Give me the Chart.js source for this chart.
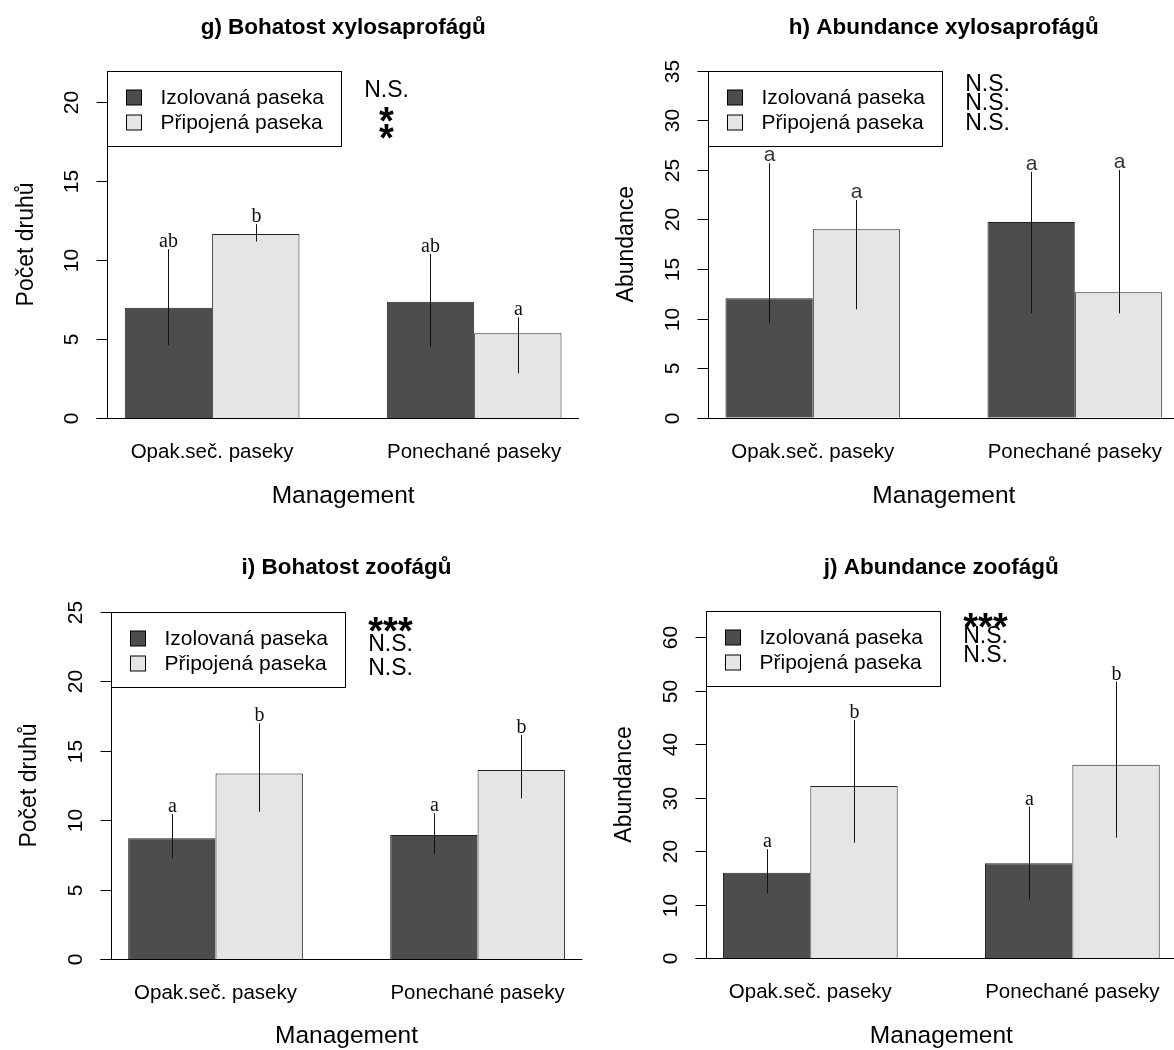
<!DOCTYPE html>
<html>
<head>
<meta charset="utf-8">
<title>Xylosaprofágové a zoofágové</title>
<script src="https://cdn.jsdelivr.net/npm/chart.js@4.4.0/dist/chart.umd.min.js"></script>
<style>
  html, body { margin: 0; padding: 0; background: #fff; overflow: hidden; }
  body { width: 1174px; height: 1050px; position: relative; }
  canvas { position: absolute; }
</style>
</head>
<body>
<canvas id="chartG" width="630" height="530" style="left:0px;top:0px"></canvas>
<canvas id="chartH" width="630" height="530" style="left:590px;top:0px"></canvas>
<canvas id="chartI" width="630" height="530" style="left:0px;top:540px"></canvas>
<canvas id="chartJ" width="630" height="530" style="left:590px;top:540px"></canvas>
<script>
// spolecne
const categories = ['Opak.seč. paseky', 'Ponechané paseky'];
const seriesNames = ['Izolovaná paseka', 'Připojená paseka'];

// g) Bohatost xylosaprofágů
const gIzol = [7.0, 7.38];
const gPrip = [11.65, 5.38];
const gIzolLow = [4.64, 4.53];
const gIzolHigh = [10.7, 10.4];
const gPripLow = [11.18, 2.85];
const gPripHigh = [12.28, 6.39];
const gIzolLetters = ['ab', 'ab'];
const gPripLetters = ['b', 'a'];
const gSig = ['N.S.', '*', '*'];
const gTicks = [0, 5, 10, 15, 20];

// h) Abundance xylosaprofágů
const hIzol = [12.04, 19.74];
const hPrip = [19.0, 12.65];
const hIzolLow = [9.52, 10.53];
const hIzolHigh = [25.66, 24.8];
const hPripLow = [10.93, 10.53];
const hPripHigh = [21.96, 24.98];
const hIzolLetters = ['a', 'a'];
const hPripLetters = ['a', 'a'];
const hSig = ['N.S.', 'N.S.', 'N.S.'];
const hTicks = [0, 5, 10, 15, 20, 25, 30, 35];

// i) Bohatost zoofágů
const iIzol = [8.7, 8.94];
const iPrip = [13.37, 13.61];
const iIzolLow = [7.26, 7.55];
const iIzolHigh = [10.45, 10.5];
const iPripLow = [10.61, 11.57];
const iPripHigh = [16.97, 16.13];
const iIzolLetters = ['a', 'a'];
const iPripLetters = ['b', 'b'];
const iSig = ['***', 'N.S.', 'N.S.'];
const iTicks = [0, 5, 10, 15, 20, 25];

// j) Abundance zoofágů
const jIzol = [16.02, 17.78];
const jPrip = [32.24, 36.17];
const jIzolLow = [12.16, 11.04];
const jIzolHigh = [20.4, 28.37];
const jPripLow = [21.63, 22.57];
const jPripHigh = [44.59, 51.76];
const jIzolLetters = ['a', 'a'];
const jPripLetters = ['b', 'b'];
const jSig = ['***', 'N.S.', 'N.S.'];
const jTicks = [0, 10, 20, 30, 40, 50, 60];

const W = 630, H = 530;
const BAR = 87.35; // sirka jednoho sloupce v px
const SANS = '"Liberation Sans", Arial, sans-serif';
const SERIF = '"Liberation Serif", "Times New Roman", serif';

Chart.defaults.font.family = SANS;
Chart.defaults.color = '#000';

// kresli veci ve stylu R: osa y, zakladni cara, chybove useky, pismena, legenda, popisky
const rPlot = {
  id: 'rPlot',
  afterDatasetsDraw(chart, args, o) {
    const ctx = chart.ctx;
    const area = chart.chartArea;
    const y = chart.scales.y;
    const b = (area.right - area.left) / 6;
    const axisX = Math.round(area.left + 0.3 * b) + 0.5;
    const plotRight = area.left + 5.7 * b;
    const zero = Math.round(y.getPixelForValue(0)) + 0.5;
    ctx.save();
    ctx.lineWidth = 1;

    // chybove useky a pismena
    chart.data.datasets.forEach((ds, i) => {
      chart.getDatasetMeta(i).data.forEach((bar, j) => {
        const x = Math.round(bar.x) + 0.5;
        const lo = y.getPixelForValue(ds.errLow[j]);
        const hi = y.getPixelForValue(ds.errHigh[j]);
        ctx.strokeStyle = '#111';
        ctx.beginPath();
        ctx.moveTo(x, lo);
        ctx.lineTo(x, hi);
        ctx.stroke();
        ctx.fillStyle = o.letterColor;
        ctx.font = o.letterFont;
        ctx.textAlign = 'center';
        ctx.textBaseline = 'alphabetic';
        ctx.fillText(ds.letters[j], x, hi - 2);
      });
    });

    // zakladni cara
    ctx.strokeStyle = '#000';
    ctx.beginPath();
    ctx.moveTo(axisX - 11, zero);
    ctx.lineTo(plotRight, zero);
    ctx.stroke();

    // osa y
    const ticks = y.ticks;
    const topTick = Math.round(y.getPixelForValue(ticks[ticks.length - 1].value)) + 0.5;
    ctx.beginPath();
    ctx.moveTo(axisX, zero);
    ctx.lineTo(axisX, topTick);
    ctx.stroke();
    ctx.font = '21px ' + SANS;
    ctx.fillStyle = '#000';
    ticks.forEach(t => {
      const py = Math.round(y.getPixelForValue(t.value)) + 0.5;
      ctx.beginPath();
      ctx.moveTo(axisX - 11, py);
      ctx.lineTo(axisX, py);
      ctx.stroke();
      ctx.save();
      ctx.translate(axisX - 35, py);
      ctx.rotate(-Math.PI / 2);
      ctx.textAlign = 'center';
      ctx.textBaseline = 'middle';
      ctx.fillText(String(t.value), 0, 0);
      ctx.restore();
    });

    // legenda
    const lx = axisX, ly = Math.round(area.top) + 0.5;
    ctx.fillStyle = '#fff';
    ctx.fillRect(lx, ly, 234, 75);
    ctx.strokeStyle = '#000';
    ctx.strokeRect(lx, ly, 234, 75);
    ctx.font = '21px ' + SANS;
    ctx.textAlign = 'left';
    ctx.textBaseline = 'middle';
    chart.data.datasets.forEach((ds, i) => {
      const cy = ly + 26 + i * 25;
      ctx.fillStyle = ds.backgroundColor;
      ctx.fillRect(lx + 19, Math.round(cy - 8), 15, 15);
      ctx.strokeStyle = '#000';
      ctx.strokeRect(lx + 19, Math.round(cy - 8), 15, 15);
      ctx.fillStyle = '#000';
      ctx.fillText(ds.label, lx + 53, cy + 1);
    });

    // vyznamnost
    ctx.textAlign = 'center';
    ctx.textBaseline = 'alphabetic';
    o.sig.forEach((s, k) => {
      ctx.font = s.indexOf('*') >= 0 ? 'bold 38px ' + SANS : '23px ' + SANS;
      ctx.fillText(s, axisX + 279, area.top + o.sigBase[k]);
    });

    // nadpis
    ctx.font = 'bold 22.5px ' + SANS;
    ctx.fillText(o.title, (area.left + area.right) / 2, 34);
    ctx.restore();
  }
};

function makeChart(p) {
  const left = p.axisX - 0.3 * BAR;
  const right = left + 6 * BAR;
  return new Chart(document.getElementById(p.id), {
    type: 'bar',
    data: {
      labels: categories,
      datasets: [{
        label: seriesNames[0],
        data: p.izol,
        errLow: p.izolLow,
        errHigh: p.izolHigh,
        letters: p.izolLetters,
        backgroundColor: '#4d4d4d',
        borderColor: '#222',
        borderWidth: { left: 1, right: 0, top: 1, bottom: 0 },
        borderSkipped: false,
        categoryPercentage: 2 / 3,
        barPercentage: 1
      }, {
        label: seriesNames[1],
        data: p.prip,
        errLow: p.pripLow,
        errHigh: p.pripHigh,
        letters: p.pripLetters,
        backgroundColor: '#e5e5e5',
        borderColor: '#222',
        borderWidth: { left: 1, right: 1, top: 1, bottom: 0 },
        borderSkipped: false,
        categoryPercentage: 2 / 3,
        barPercentage: 1
      }]
    },
    options: {
      responsive: false,
      animation: false,
      events: [],
      layout: { padding: { left: 0, top: p.top, right: W - right, bottom: 0 } },
      plugins: {
        legend: { display: false },
        title: { display: false },
        tooltip: { enabled: false },
        rPlot: {
          title: p.title,
          sig: p.sig,
          sigBase: p.sigBase,
          letterFont: p.letterFont,
          letterColor: p.letterColor
        }
      },
      scales: {
        x: {
          grid: { display: false, drawTicks: false },
          border: { display: false },
          ticks: { color: '#000', font: { size: 20.5 }, padding: 22, maxRotation: 0, autoSkip: false },
          title: { display: true, text: 'Management', color: '#000', font: { size: 24.5 }, padding: { top: 0, bottom: 19 } },
          afterFit: s => { s.height = H - p.bottom; }
        },
        y: {
          min: 0,
          max: p.ymax,
          grid: { display: false },
          border: { display: false },
          ticks: { display: false },
          afterBuildTicks: s => { s.ticks = p.ticks.map(v => ({ value: v })); },
          title: { display: true, text: p.yTitle, color: '#000', font: { size: 23 }, padding: { top: p.yTitlePad, bottom: 0 } },
          afterFit: s => { s.width = left; }
        }
      }
    },
    plugins: [rPlot]
  });
}

makeChart({
  id: 'chartG', title: 'g) Bohatost xylosaprofágů', yTitle: 'Počet druhů',
  izol: gIzol, prip: gPrip, izolLow: gIzolLow, izolHigh: gIzolHigh, pripLow: gPripLow, pripHigh: gPripHigh,
  izolLetters: gIzolLetters, pripLetters: gPripLetters, sig: gSig, ticks: gTicks, ymax: 22,
  axisX: 107.3, top: 70.5, bottom: 418.3, yTitlePad: 12.9,
  sigBase: [26.6, 63, 80.5], letterFont: '20px ' + SERIF, letterColor: '#111'
});
makeChart({
  id: 'chartH', title: 'h) Abundance xylosaprofágů', yTitle: 'Abundance',
  izol: hIzol, prip: hPrip, izolLow: hIzolLow, izolHigh: hIzolHigh, pripLow: hPripLow, pripHigh: hPripHigh,
  izolLetters: hIzolLetters, pripLetters: hPripLetters, sig: hSig, ticks: hTicks, ymax: 35,
  axisX: 118, top: 70.7, bottom: 417.7, yTitlePad: 22.5,
  sigBase: [20.7, 39.3, 59.2], letterFont: '21px ' + SANS, letterColor: '#333'
});
makeChart({
  id: 'chartI', title: 'i) Bohatost zoofágů', yTitle: 'Počet druhů',
  izol: iIzol, prip: iPrip, izolLow: iIzolLow, izolHigh: iIzolHigh, pripLow: iPripLow, pripHigh: iPripHigh,
  izolLetters: iIzolLetters, pripLetters: iPripLetters, sig: iSig, ticks: iTicks, ymax: 25,
  axisX: 110.7, top: 71.7, bottom: 419.3, yTitlePad: 16.3,
  sigBase: [32, 39, 63.2], letterFont: '20px ' + SERIF, letterColor: '#111'
});
makeChart({
  id: 'chartJ', title: 'j) Abundance zoofágů', yTitle: 'Abundance',
  izol: jIzol, prip: jPrip, izolLow: jIzolLow, izolHigh: jIzolHigh, pripLow: jPripLow, pripHigh: jPripHigh,
  izolLetters: jIzolLetters, pripLetters: jPripLetters, sig: jSig, ticks: jTicks, ymax: 65,
  axisX: 115.5, top: 70.7, bottom: 418.3, yTitlePad: 21.2,
  sigBase: [29, 32.5, 50.8], letterFont: '20px ' + SERIF, letterColor: '#111'
});
</script>
</body>
</html>
